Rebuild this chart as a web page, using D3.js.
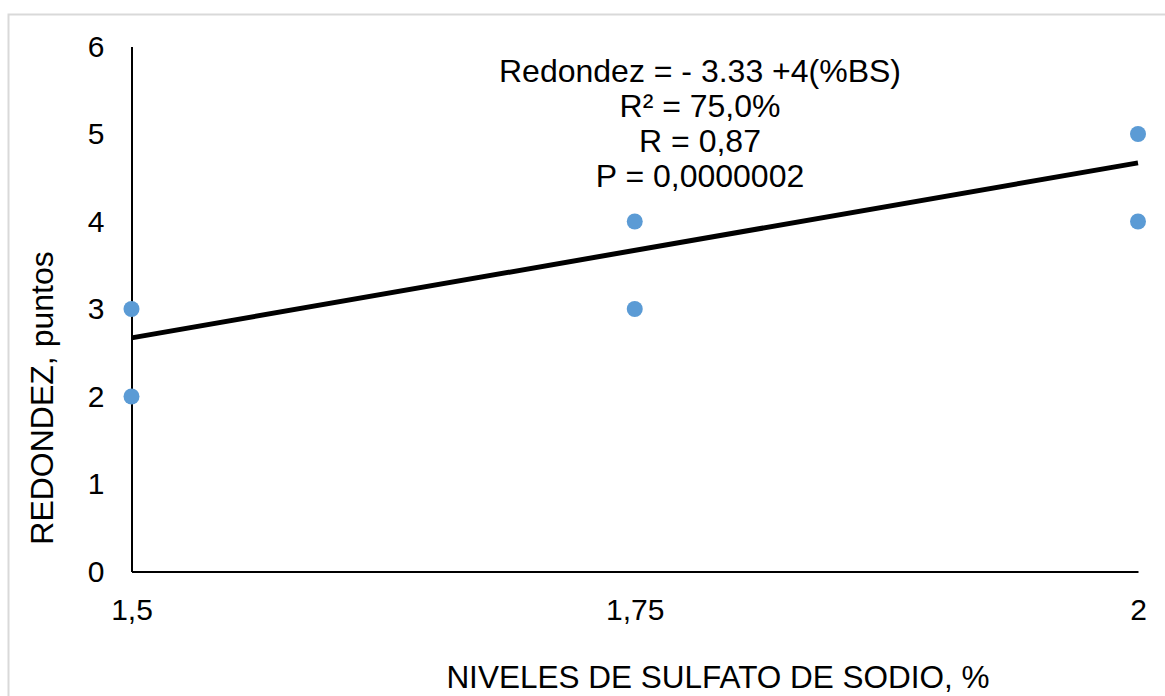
<!DOCTYPE html>
<html><head><meta charset="utf-8">
<script src="https://cdn.jsdelivr.net/npm/d3@7"></script>
<style>body{margin:0;background:#fff;}svg{display:block;font-family:"Liberation Sans",Arial,sans-serif;}</style>
</head><body>
<script>
const xValues = [1.5, 1.5, 1.75, 1.75, 2, 2];
const yValues = [3, 2, 4, 3, 5, 4];
const xTicks = [1.5, 1.75, 2];
const xTickLabels = ["1,5", "1,75", "2"];
const yTicks = [0, 1, 2, 3, 4, 5, 6];
const intercept = -3.33, slope = 4;
const annotation = ["Redondez = - 3.33 +4(%BS)", "R² = 75,0%", "R = 0,87", "P = 0,0000002"];
const xTitle = "NIVELES DE SULFATO DE SODIO, %";
const yTitle = "REDONDEZ, puntos";

const W = 1165, H = 696;
const svg = d3.select("body").append("svg").attr("width", W).attr("height", H);
svg.append("rect").attr("x", 8.5).attr("y", 14.5).attr("width", 1170).attr("height", 700)
  .attr("fill", "none").attr("stroke", "#d9d9d9").attr("stroke-width", 2);

const x = d3.scaleLinear().domain([1.5, 2]).range([131.5, 1138]);
const y = d3.scaleLinear().domain([0, 6]).range([571.5, 46.5]);

const tickFs = 30, textFs = 32;
// axes
const xAxis = d3.axisBottom(x).tickValues(xTicks).tickFormat((d, i) => xTickLabels[i]).tickSize(0).tickPadding(27);
const gx = svg.append("g").attr("transform", `translate(0,${y(0)})`).call(xAxis);
gx.select(".domain").attr("stroke", "#000").attr("stroke-width", 2);
gx.selectAll("text").attr("font-size", tickFs).attr("font-family", "Liberation Sans, Arial, sans-serif").attr("fill", "#000");

const yAxis = d3.axisLeft(y).tickValues(yTicks).tickFormat(d3.format("d")).tickSize(0).tickPadding(27);
const gy = svg.append("g").attr("transform", `translate(${x(1.5)},0)`).call(yAxis);
gy.select(".domain").attr("stroke", "#000").attr("stroke-width", 2);
gy.selectAll("text").attr("font-size", tickFs).attr("font-family", "Liberation Sans, Arial, sans-serif").attr("fill", "#000");

// regression line
svg.append("line")
  .attr("x1", x(1.5)).attr("y1", y(intercept + slope * 1.5))
  .attr("x2", x(2)).attr("y2", y(intercept + slope * 2))
  .attr("stroke", "#000").attr("stroke-width", 5);

// points
svg.append("g").selectAll("circle").data(xValues).join("circle")
  .attr("cx", d => x(d)).attr("cy", (d, i) => y(yValues[i])).attr("r", 8)
  .attr("fill", "#5b9bd5");

// annotation
const baseY = [82, 117, 152, 187];
svg.append("g").selectAll("text").data(annotation).join("text")
  .attr("x", 700).attr("y", (d, i) => baseY[i]).attr("text-anchor", "middle")
  .attr("font-size", textFs).attr("fill", "#000").text(d => d);

// titles
svg.append("text").attr("x", 718).attr("y", 688).attr("text-anchor", "middle")
  .attr("font-size", 31.5).attr("fill", "#000").text(xTitle);
svg.append("text").attr("transform", `translate(53,398) rotate(-90)`).attr("text-anchor", "middle")
  .attr("font-size", textFs).attr("fill", "#000").text(yTitle);
</script>
</body></html>
